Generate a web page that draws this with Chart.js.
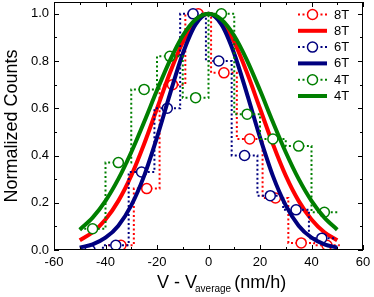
<!DOCTYPE html>
<html>
<head>
<meta charset="utf-8">
<script src="https://cdn.jsdelivr.net/npm/chart.js@4.4.0/dist/chart.umd.min.js"></script>
<style>
  html, body { margin: 0; padding: 0; background: #fff; }
</style>
</head>
<body>
<canvas id="graficoVelocidade" width="374" height="297"></canvas>
<script>
// histogramas (centro do bin, contagem normalizada)
const centros8T = [-34, -24, -14, -4, 6, 16, 26, 36, 46];
const contagem8T = [0.02, 0.26, 0.70, 1.00, 0.75, 0.47, 0.22, 0.03, 0.02];
const centros6T = [-46, -36, -26, -16, -6, 4, 14, 24, 34, 44];
const contagem6T = [0.00, 0.02, 0.33, 0.60, 1.00, 0.80, 0.40, 0.23, 0.17, 0.05];
const centros4T = [-45, -35, -25, -15, -5, 5, 15, 25, 35, 45];
const contagem4T = [0.09, 0.37, 0.68, 0.82, 0.645, 1.00, 0.575, 0.47, 0.44, 0.16];
const larguraBin = 10;

// curvas de ajuste, lidas a cada 5 nm/h
const xAjuste = [-50, -45, -40, -35, -30, -25, -20, -15, -10, -5, 0, 5, 10, 15, 20, 25, 30, 35, 40, 45, 50];
const ajuste8T = [0.041, 0.075, 0.129, 0.208, 0.315, 0.449, 0.599, 0.749, 0.880, 0.968, 1.0, 0.968, 0.880, 0.749, 0.599, 0.449, 0.315, 0.208, 0.129, 0.075, 0.041];
const ajuste6T = [0.010, 0.024, 0.052, 0.103, 0.189, 0.314, 0.477, 0.659, 0.831, 0.955, 1.0, 0.955, 0.831, 0.659, 0.477, 0.314, 0.189, 0.103, 0.052, 0.024, 0.010];
const ajuste4T = [0.086, 0.137, 0.208, 0.301, 0.414, 0.542, 0.676, 0.802, 0.907, 0.976, 1.0, 0.976, 0.907, 0.802, 0.676, 0.542, 0.414, 0.301, 0.208, 0.137, 0.086];

// eixos
const xTicks = [-60, -40, -20, 0, 20, 40, 60];
const xMinor = [-50, -30, -10, 10, 30, 50];
const yTicks = [0, 0.2, 0.4, 0.6, 0.8, 1.0];
const yMinor = [0.1, 0.3, 0.5, 0.7, 0.9];

const vermelho = '#ff0000';
const azul = '#00007f';
const verde = '#007f00';

Chart.defaults.font.family = '"Liberation Sans", Arial, sans-serif';
Chart.defaults.color = '#000';

function histograma(label, centros, valores, cor) {
  // pontos extras nas bordas externas para fechar os degraus
  const pts = [{ x: centros[0] - larguraBin / 2, y: valores[0] }];
  centros.forEach((c, i) => pts.push({ x: c, y: valores[i] }));
  pts.push({ x: centros[centros.length - 1] + larguraBin / 2, y: valores[valores.length - 1] });
  const raios = pts.map((p, i) => (i === 0 || i === pts.length - 1) ? 0 : 5);
  return {
    label: label,
    tipo: 'hist',
    data: pts,
    stepped: 'middle',
    borderColor: cor,
    borderWidth: 2,
    borderDash: [2, 2.5],
    pointRadius: raios,
    pointBorderColor: cor,
    pointBackgroundColor: '#fff',
    pointBorderWidth: 1.5,
    fill: false
  };
}

function ajuste(label, valores, cor) {
  return {
    label: label,
    tipo: 'fit',
    data: xAjuste.map((x, i) => ({ x: x, y: valores[i] })),
    borderColor: cor,
    borderWidth: 4,
    pointRadius: 0,
    cubicInterpolationMode: 'monotone',
    fill: false
  };
}

const datasets = [
  histograma('8T', centros8T, contagem8T, vermelho),
  ajuste('8T', ajuste8T, vermelho),
  histograma('6T', centros6T, contagem6T, azul),
  ajuste('6T', ajuste6T, azul),
  histograma('4T', centros4T, contagem4T, verde),
  ajuste('4T', ajuste4T, verde)
];
// o ultimo desenhado fica por cima
datasets.forEach((d, i) => { d.order = datasets.length - i; });

// moldura com ticks para dentro nos quatro lados
const molduraPlugin = {
  id: 'moldura',
  afterDatasetsDraw(chart) {
    const { ctx, chartArea: a, scales } = chart;
    ctx.save();
    ctx.strokeStyle = '#000';
    ctx.lineWidth = 1;
    ctx.strokeRect(a.left + 0.5, a.top + 0.5, a.right - a.left - 1, a.bottom - a.top - 1);
    ctx.beginPath();
    const marca = (vals, len, eixo) => {
      vals.forEach(v => {
        if (eixo === 'x') {
          const px = Math.round(scales.x.getPixelForValue(v)) + 0.5;
          ctx.moveTo(px, a.bottom); ctx.lineTo(px, a.bottom - len);
          ctx.moveTo(px, a.top); ctx.lineTo(px, a.top + len);
        } else {
          const py = Math.round(scales.y.getPixelForValue(v)) + 0.5;
          ctx.moveTo(a.left, py); ctx.lineTo(a.left + len, py);
          ctx.moveTo(a.right, py); ctx.lineTo(a.right - len, py);
        }
      });
    };
    marca(xTicks, 5, 'x');
    marca(xMinor, 3, 'x');
    marca(yTicks, 5, 'y');
    marca(yMinor, 3, 'y');
    ctx.stroke();
    ctx.restore();
  }
};

// titulos dos eixos (com subscrito) e legenda
const textosPlugin = {
  id: 'textos',
  afterDraw(chart) {
    const { ctx, chartArea: a } = chart;
    const fam = Chart.defaults.font.family;
    ctx.save();
    ctx.fillStyle = '#000';

    // eixo y
    ctx.save();
    ctx.translate(12, (a.top + a.bottom) / 2);
    ctx.rotate(-Math.PI / 2);
    ctx.font = '18px ' + fam;
    ctx.textAlign = 'center';
    ctx.textBaseline = 'middle';
    ctx.fillText('Normalized Counts', 0, 0);
    ctx.restore();

    // eixo x
    ctx.textAlign = 'left';
    ctx.textBaseline = 'alphabetic';
    let x0 = 157;
    ctx.font = '18px ' + fam;
    ctx.fillText('V - V', x0, 288);
    x0 += ctx.measureText('V - V').width - 2;
    ctx.font = '10px ' + fam;
    ctx.fillText('average', x0, 292);
    x0 += ctx.measureText('average').width + 3;
    ctx.font = '18px ' + fam;
    ctx.fillText('(nm/h)', x0, 288);

    // legenda
    const xs = 298, xe = 327, xt = 334;
    chart.data.datasets.forEach((d, i) => {
      const y = 14.5 + i * 16.3;
      ctx.strokeStyle = d.borderColor;
      if (d.tipo === 'hist') {
        ctx.lineWidth = 2;
        ctx.setLineDash([2, 2.5]);
        ctx.beginPath(); ctx.moveTo(xs, y); ctx.lineTo(xe, y); ctx.stroke();
        ctx.setLineDash([]);
        ctx.lineWidth = 1.5;
        ctx.fillStyle = '#fff';
        ctx.beginPath(); ctx.arc((xs + xe) / 2, y, 5, 0, Math.PI * 2); ctx.fill(); ctx.stroke();
      } else {
        ctx.lineWidth = 4;
        ctx.beginPath(); ctx.moveTo(xs, y); ctx.lineTo(xe, y); ctx.stroke();
      }
      ctx.fillStyle = '#000';
      ctx.font = '13px ' + fam;
      ctx.textBaseline = 'middle';
      ctx.fillText(d.label, xt, y + 0.5);
    });
    ctx.restore();
  }
};

new Chart(document.getElementById('graficoVelocidade'), {
  type: 'line',
  data: { datasets: datasets },
  options: {
    responsive: false,
    animation: false,
    devicePixelRatio: 1,
    layout: { padding: { top: 2, right: 11, left: 0, bottom: 0 } },
    plugins: {
      legend: { display: false },
      tooltip: { enabled: false }
    },
    scales: {
      x: {
        type: 'linear',
        min: -60,
        max: 60,
        afterBuildTicks: s => { s.ticks = xTicks.map(v => ({ value: v })); },
        afterFit: s => { s.height = 47; s.paddingLeft = 0; s.paddingRight = 0; },
        grid: { display: false, drawTicks: false },
        border: { display: false },
        ticks: { font: { size: 13 }, padding: 5, maxRotation: 0, callback: v => String(v) }
      },
      y: {
        type: 'linear',
        min: 0,
        max: 1.05,
        afterBuildTicks: s => { s.ticks = yTicks.map(v => ({ value: v })); },
        afterFit: s => { s.width = 54; s.paddingTop = 0; s.paddingBottom = 0; },
        grid: { display: false, drawTicks: false },
        border: { display: false },
        ticks: { font: { size: 13 }, padding: 5, callback: v => Number(v).toFixed(1) }
      }
    }
  },
  plugins: [molduraPlugin, textosPlugin]
});
</script>
</body>
</html>
